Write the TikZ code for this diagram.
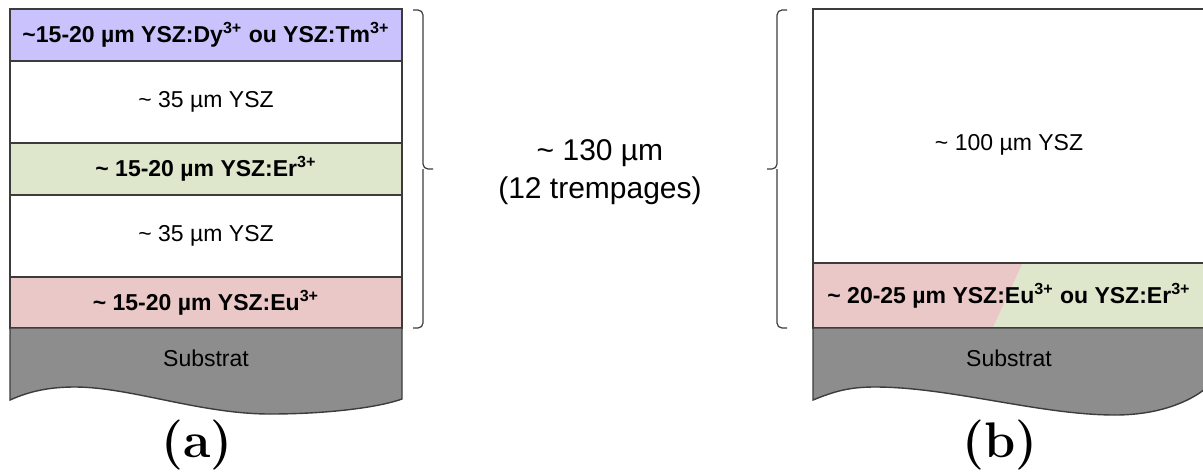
\documentclass[tikz,border=0pt]{standalone}
\usepackage{fontspec}
\newfontfamily\arial{Liberation Sans}
\usetikzlibrary{positioning,calc}
\definecolor{edge}{RGB}{60,60,60}
\definecolor{lavender}{RGB}{202,194,252}
\definecolor{mint}{RGB}{222,231,204}
\definecolor{rose}{RGB}{234,200,200}
\definecolor{subGray}{RGB}{141,141,141}

\begin{document}
\begin{tikzpicture}[x=0.5pt, y=0.5pt,
  layer/.style={draw=edge, line width=0.7pt, anchor=north west,
                inner sep=0pt, outer sep=0pt, minimum width=196pt,
                font=\arial\fontsize{11.5}{14}\selectfont, align=center},
  doped/.style={layer, font=\arial\fontsize{11.5}{14}\selectfont\bfseries},
  sub/.style={fill=subGray, draw=edge, line width=0.7pt},
  subtxt/.style={font=\arial\fontsize{11.5}{14}\selectfont},
  tag/.style={font=\fontsize{25}{30}\selectfont\bfseries},
  brk/.style={draw=edge, line width=0.6pt, rounded corners=2.5pt}
]
\useasboundingbox (0,0) rectangle (1203,473);

% (a) multilayer coating
\node[doped, fill=lavender, minimum height=26pt] (Dy) at (10,464)
  {\textasciitilde15-20 µm YSZ:Dy\textsuperscript{3+} ou YSZ:Tm\textsuperscript{3+}};
\node[layer, minimum height=41pt, below=0pt of Dy] (YA) {\textasciitilde{} 35 µm YSZ};
\node[doped, fill=mint, minimum height=26pt, below=0pt of YA] (Er)
  {\textasciitilde{} 15-20 µm YSZ:Er\textsuperscript{3+}};
\node[layer, minimum height=41pt, below=0pt of Er] (YB) {\textasciitilde{} 35 µm YSZ};
\node[doped, fill=rose, minimum height=25.5pt, below=0pt of YB] (Eu)
  {\textasciitilde{} 15-20 µm YSZ:Eu\textsuperscript{3+}};
\draw[sub] (Eu.south west) -- (10,73) .. controls (30,82) and (50,86) .. (75,86)
  .. controls (130,86) and (200,59) .. (270,59)
  .. controls (330,59) and (380,66) .. (402,74) -- (Eu.south east) -- cycle;
\node[subtxt] (SubA) at ($(Eu.south)+(0,-30)$) {Substrat};
\node[tag] (LabA) at (197,28) {(a)};

% brackets and total thickness
\coordinate (BA) at (423,304);
\draw[brk] ($(Dy.north east)+(11,-1)$) -| (BA) -- ++(10,0);
\draw[brk] ($(Eu.south east)+(11,0)$) -| (BA);
\node[font=\arial\fontsize{15}{19}\selectfont, align=center] (Thick) at (600,301)
  {\textasciitilde{} 130 µm\\(12 trempages)};

% (b) bilayer coating
\node[layer, minimum height=127pt] (YC) at (813,464) {};
\node[subtxt] (TC) at (1009,328) {\textasciitilde{} 100 µm YSZ};
\fill[rose] (YC.south west) -- ++(210,0) -- ++(-30,-65) -- ++(-180,0) -- cycle;
\fill[mint] ($(YC.south west)+(210,0)$) -- (YC.south east) -- ++(0,-65)
  -- ++(-212,0) -- cycle;
\node[doped, minimum height=32.5pt, below=0pt of YC] (Mix)
  {\textasciitilde{} 20-25 µm YSZ:Eu\textsuperscript{3+} ou YSZ:Er\textsuperscript{3+}};
\draw[sub] (Mix.south west) -- (813,73) .. controls (835,82) and (850,86) .. (875,86)
  .. controls (950,86) and (1040,58) .. (1115,58)
  .. controls (1160,58) and (1190,72) .. (1205,84) -- (Mix.south east) -- cycle;
\node[subtxt] (SubB) at ($(Mix.south)+(0,-30)$) {Substrat};
\node[tag] (LabB) at (1000,28) {(b)};
\coordinate (BB) at (777,304);
\draw[brk] ($(YC.north west)+(-26,-1)$) -| (BB) -- ++(-10,0);
\draw[brk] ($(Mix.south west)+(-26,0)$) -| (BB);
\end{tikzpicture}
\end{document}
